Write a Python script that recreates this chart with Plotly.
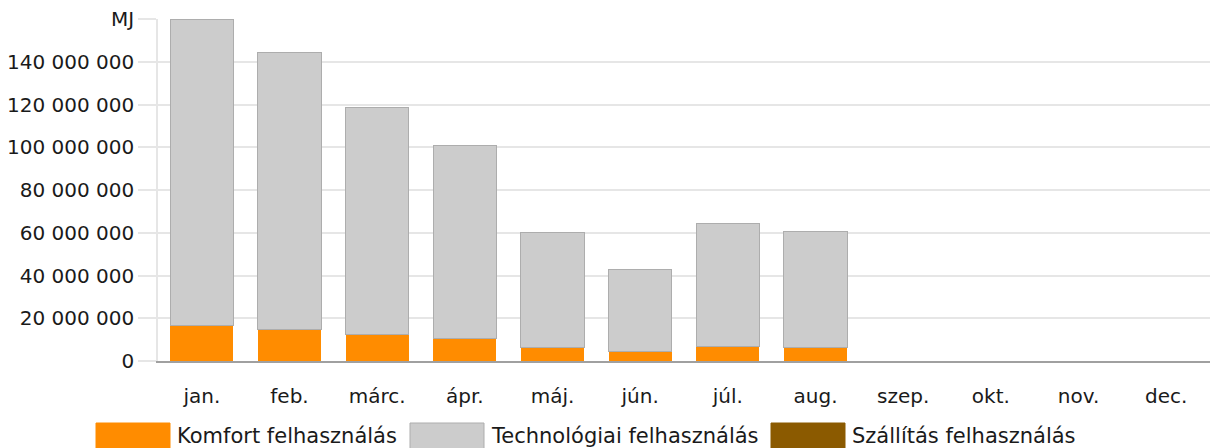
import plotly.graph_objects as go

# data (MJ)
months = ["jan.", "feb.", "márc.", "ápr.", "máj.", "jún.", "júl.", "aug.", "szep.", "okt.", "nov.", "dec."]
komfort = [16.4e6, 14.7e6, 12.2e6, 10.3e6, 6.3e6, 4.4e6, 6.8e6, 6.3e6, None, None, None, None]
total = [160.0e6, 144.2e6, 118.4e6, 100.7e6, 59.9e6, 42.6e6, 64.1e6, 60.4e6, None, None, None, None]
technologiai = [t - k if t is not None else None for t, k in zip(total, komfort)]
szallitas = [0, 0, 0, 0, 0, 0, 0, 0, None, None, None, None]

tick_vals = [0, 20e6, 40e6, 60e6, 80e6, 100e6, 120e6, 140e6, 160e6]
tick_text = ["0", "20 000 000", "40 000 000", "60 000 000", "80 000 000",
             "100 000 000", "120 000 000", "140 000 000", "MJ"]

names = ["Komfort felhasználás", "Technológiai felhasználás", "Szállítás felhasználás"]
colors = ["#FF8C00", "#CCCCCC", "#8B5A00"]
borders = ["#FF8C00", "#ADADAD", "#8B5A00"]

W, H = 1212, 448
L, R, T, B = 158, 2, 19, 87
pw, ph = W - L - R, H - T - B

fig = go.Figure()
for name, vals, c, bc in zip(names, [komfort, technologiai, szallitas], colors, borders):
    fig.add_trace(go.Bar(
        x=months, y=vals, name=name,
        marker=dict(color=c, line=dict(color=bc, width=1 if bc != c else 0)),
        showlegend=False,
    ))

# custom legend with wide swatches (the bottom of them runs off the page)
legend_x = [96, 410, 771]
for lx, name, c in zip(legend_x, names, colors):
    x0 = (lx - L) / pw
    x1 = (lx + 74 - L) / pw
    y0 = (T + ph - 452) / ph
    y1 = (T + ph - 423) / ph
    fig.add_shape(type="rect", xref="paper", yref="paper", x0=x0, x1=x1, y0=y0, y1=y1,
                  fillcolor=c, line=dict(color="#ADADAD" if c == "#CCCCCC" else c, width=1))
    fig.add_annotation(xref="paper", yref="paper", x=(lx + 79 - L) / pw, y=(T + ph - 436) / ph,
                       text=name, showarrow=False, xanchor="left", yanchor="middle",
                       font=dict(size=21, color="#1a1a1a"))

fig.update_layout(
    barmode="stack",
    bargap=0.28,
    width=W, height=H,
    margin=dict(l=L, r=R, t=T, b=B),
    plot_bgcolor="white",
    paper_bgcolor="white",
    font=dict(family="DejaVu Sans", size=20, color="#1a1a1a"),
    xaxis=dict(
        showgrid=False, showline=True, linecolor="#A0A0A0", linewidth=1.5,
        ticks="outside", ticklen=16, tickcolor="rgba(0,0,0,0)",
        fixedrange=True,
    ),
    yaxis=dict(
        range=[0, 160e6], tickvals=tick_vals, ticktext=tick_text,
        showgrid=True, gridcolor="#E6E6E6", gridwidth=1.5,
        showline=True, linecolor="#E6E6E6", linewidth=1.5,
        ticks="outside", ticklen=18, tickcolor="#E6E6E6", tickwidth=1.5,
        zeroline=False, fixedrange=True,
    ),
)

fig.write_html("out.html", config={"displayModeBar": False},
               post_script="document.body.style.margin='0';document.body.style.overflow='hidden';")
